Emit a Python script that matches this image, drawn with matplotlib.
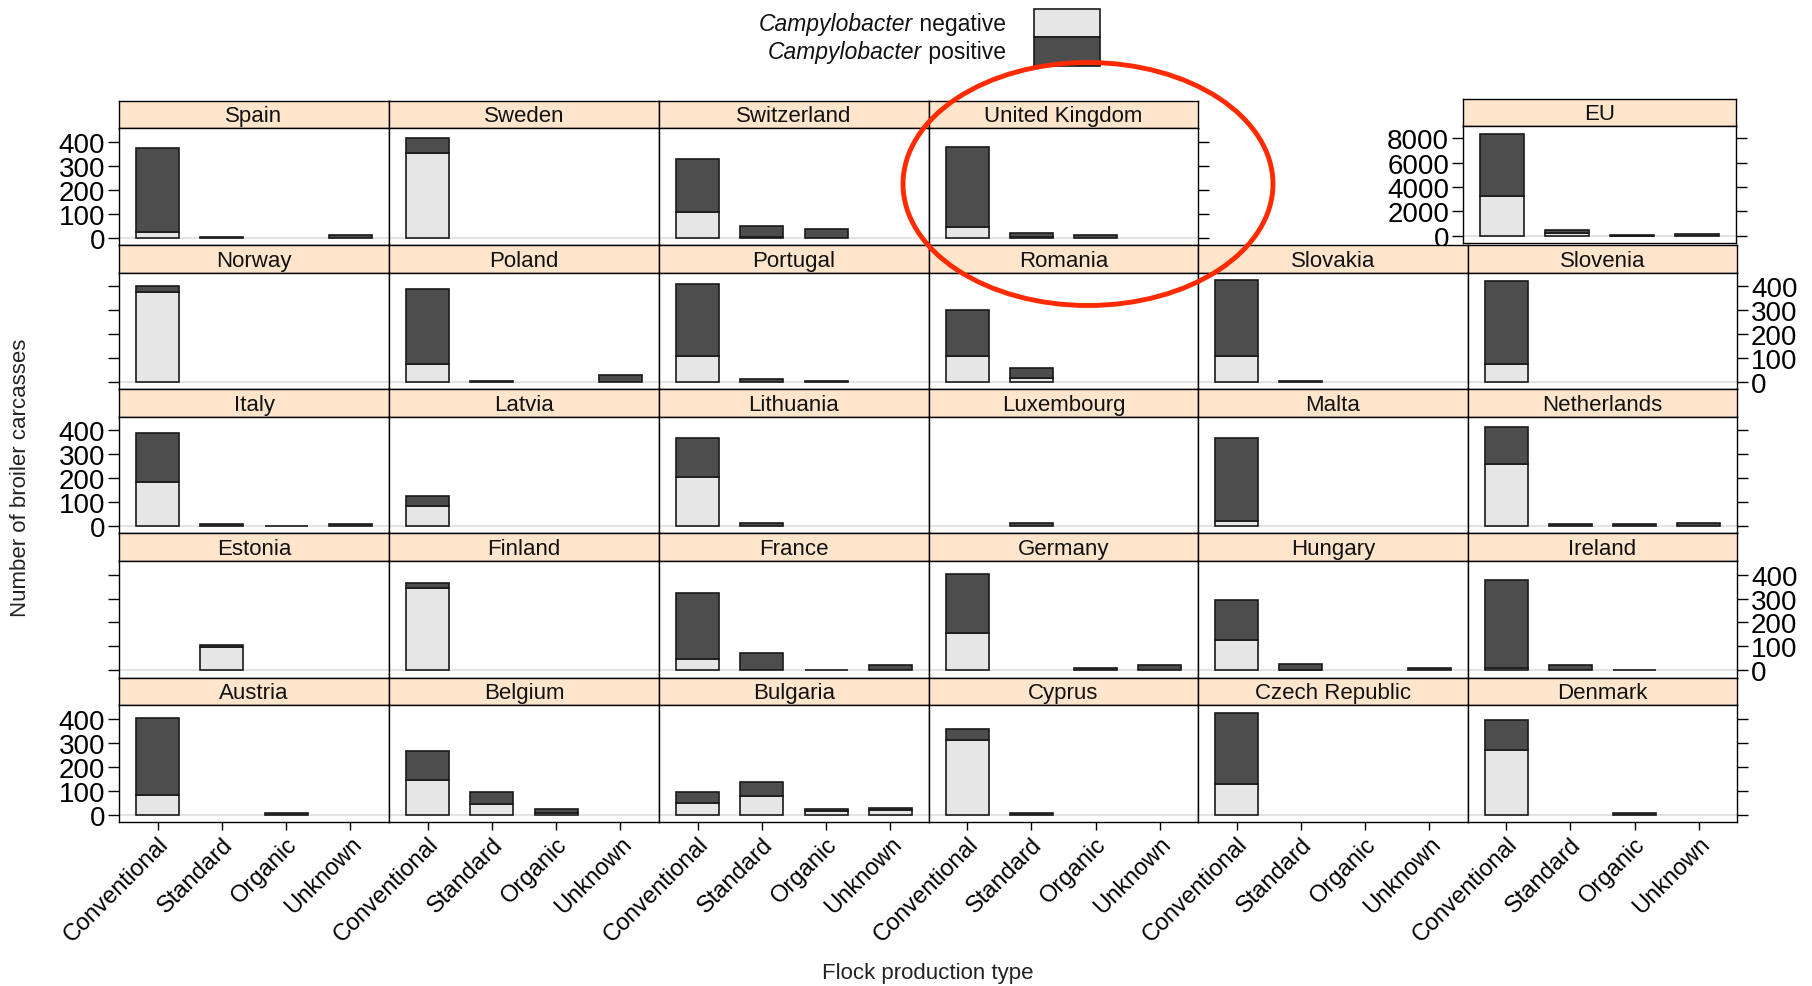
import matplotlib
matplotlib.use('Agg')
import matplotlib.pyplot as plt
from matplotlib.patches import Rectangle, Ellipse

plt.rcParams['font.family'] = ['Liberation Sans', 'DejaVu Sans']

# categories on the x axis of every panel
categories = ['Conventional', 'Standard', 'Organic', 'Unknown']

# panel layout, top row first (None = empty cell)
layout = [
    ['Spain', 'Sweden', 'Switzerland', 'United Kingdom', None, 'EU'],
    ['Norway', 'Poland', 'Portugal', 'Romania', 'Slovakia', 'Slovenia'],
    ['Italy', 'Latvia', 'Lithuania', 'Luxembourg', 'Malta', 'Netherlands'],
    ['Estonia', 'Finland', 'France', 'Germany', 'Hungary', 'Ireland'],
    ['Austria', 'Belgium', 'Bulgaria', 'Cyprus', 'Czech Republic', 'Denmark'],
]

# Campylobacter negative counts (Conventional, Standard, Organic, Unknown)
negative = {
    'Spain': [26, 0, 0, 0], 'Sweden': [353, 0, 0, 0],
    'Switzerland': [107, 2, 0, 0], 'United Kingdom': [46, 3, 0, 0],
    'EU': [3254, 250, 20, 0],
    'Norway': [376, 0, 0, 0], 'Poland': [77, 0, 0, 0],
    'Portugal': [107, 0, 0, 0], 'Romania': [107, 18, 0, 0],
    'Slovakia': [108, 0, 0, 0], 'Slovenia': [77, 0, 0, 0],
    'Italy': [185, 0, 2, 0], 'Latvia': [83, 0, 0, 0],
    'Lithuania': [204, 0, 0, 0], 'Luxembourg': [0, 0, 0, 0],
    'Malta': [21, 0, 0, 0], 'Netherlands': [258, 0, 0, 0],
    'Estonia': [0, 96, 0, 0], 'Finland': [345, 0, 0, 0],
    'France': [48, 0, 1, 0], 'Germany': [156, 0, 0, 0],
    'Hungary': [126, 3, 0, 0], 'Ireland': [9, 0, 1, 0],
    'Austria': [81, 0, 0, 0], 'Belgium': [143, 43, 8, 0],
    'Bulgaria': [48, 76, 14, 19], 'Cyprus': [310, 0, 0, 0],
    'Czech Republic': [129, 0, 0, 0], 'Denmark': [271, 0, 0, 0],
}

# Campylobacter positive counts
positive = {
    'Spain': [348, 5, 0, 13], 'Sweden': [62, 0, 0, 0],
    'Switzerland': [224, 46, 36, 0], 'United Kingdom': [333, 16, 12, 0],
    'EU': [5126, 240, 30, 136],
    'Norway': [25, 0, 0, 0], 'Poland': [313, 2, 0, 29],
    'Portugal': [301, 13, 6, 0], 'Romania': [192, 42, 0, 0],
    'Slovakia': [319, 2, 0, 0], 'Slovenia': [344, 0, 0, 0],
    'Italy': [205, 7, 0, 7], 'Latvia': [44, 0, 0, 0],
    'Lithuania': [164, 14, 0, 0], 'Luxembourg': [0, 14, 0, 0],
    'Malta': [347, 0, 0, 0], 'Netherlands': [158, 8, 8, 14],
    'Estonia': [0, 8, 0, 0], 'Finland': [22, 0, 0, 0],
    'France': [277, 74, 0, 22], 'Germany': [247, 0, 10, 22],
    'Hungary': [169, 24, 0, 9], 'Ireland': [369, 22, 0, 0],
    'Austria': [324, 0, 8, 0], 'Belgium': [124, 52, 16, 0],
    'Bulgaria': [47, 62, 10, 10], 'Cyprus': [47, 8, 0, 0],
    'Czech Republic': [295, 0, 0, 0], 'Denmark': [124, 0, 8, 0],
}

yticks_common = [0, 100, 200, 300, 400]
yticks_eu = [0, 2000, 4000, 6000, 8000]

NEG = '#e6e6e6'
POS = '#4d4d4d'
STRIP = '#ffe5cc'

W, H = 1812, 987
fig = plt.figure(figsize=(W / 100, H / 100), dpi=100)


def px_axes(x0, y0, x1, y1):
    return fig.add_axes([x0 / W, 1 - y1 / H, (x1 - x0) / W, (y1 - y0) / H])


col_x = [119, 389, 659, 929, 1198, 1468, 1737]
row_top = 101.7
row_h = 144.2
strip_h = 27.7

common_max = max(n + p for k in negative if k != 'EU'
                 for n, p in zip(negative[k], positive[k]))
eu_max = max(n + p for n, p in zip(negative['EU'], positive['EU']))

xs = list(range(1, len(categories) + 1))

for r, row in enumerate(layout):
    for c, name in enumerate(row):
        if name is None:
            continue
        top = row_top + r * row_h
        x0, x1 = col_x[c], col_x[c + 1]
        if name == 'EU':
            # EU panel sits a little higher and to the left
            top -= 2
            x0, x1 = x0 - 5, x1 - 1
        # strip
        sax = px_axes(x0, top, x1, top + strip_h)
        sax.set_facecolor(STRIP)
        sax.set_xticks([])
        sax.set_yticks([])
        for s in sax.spines.values():
            s.set_linewidth(1.0)
        sax.text(0.5, 0.45, name, ha='center', va='center', fontsize=16,
                 color='#111111', transform=sax.transAxes)
        # panel
        ax = px_axes(x0, top + strip_h, x1, top + row_h)
        for s in ax.spines.values():
            s.set_linewidth(1.0)
        ax.axhline(0, color='#e3e3e3', lw=1.5, zorder=0)
        neg = negative[name]
        pos = positive[name]
        for xi, n, p in zip(xs, neg, pos):
            if n > 0:
                ax.bar(xi, n, width=2 / 3, color=NEG, edgecolor='#1a1a1a',
                       linewidth=1.2, zorder=2)
            if p > 0:
                ax.bar(xi, p, bottom=n, width=2 / 3, color=POS,
                       edgecolor='#1a1a1a', linewidth=1.2, zorder=2)
        ax.set_xlim(0.4, len(categories) + 0.6)
        m = eu_max if name == 'EU' else common_max
        ax.set_ylim(-0.07 * m, 1.07 * m)
        ax.set_yticks(yticks_eu if name == 'EU' else yticks_common)

        last_col = (c == 5) or (r == 0 and c == 3)
        left = (c == 0) or name == 'EU'
        right = last_col
        lab_left = (left and r % 2 == 0)
        lab_right = (right and r % 2 == 1)
        ax.tick_params(axis='y', direction='out', length=8, width=1,
                       left=left, right=right, labelleft=lab_left,
                       labelright=lab_right, labelsize=20, pad=2,
                       colors='black')
        ax.set_xticks(xs)
        if r == len(layout) - 1:
            ax.tick_params(axis='x', direction='out', length=6, width=1,
                           labelbottom=False)
            for xi, cat in zip(xs, categories):
                ax.annotate(cat, xy=(xi, 0), xycoords=ax.get_xaxis_transform(),
                            xytext=(5.5, -13.5), textcoords='offset points',
                            ha='right', va='center', rotation=45,
                            rotation_mode='anchor', fontsize=17)
        else:
            ax.tick_params(axis='x', bottom=False, labelbottom=False)

# overlay for legend, ellipse and axis titles
ov = fig.add_axes([0, 0, 1, 1], facecolor='none')
ov.set_xlim(0, W)
ov.set_ylim(H, 0)
ov.axis('off')

ov.add_patch(Rectangle((1034, 10.4), 66, 27.7, facecolor=NEG,
                       edgecolor='#1a1a1a', lw=1.2))
ov.add_patch(Rectangle((1034, 38.1), 66, 28.9, facecolor=POS,
                       edgecolor='#1a1a1a', lw=1.2))
for y, word in [(24, 'negative'), (53, 'positive')]:
    t = ov.text(1006, y, ' ' + word, ha='right', va='center', fontsize=16.5,
                color='#111111')
    ov.annotate('Campylobacter', xy=(0, 0.5), xycoords=t, ha='right',
                va='center', fontsize=16.5, style='italic', color='#111111')

ov.add_patch(Ellipse((1088, 185), 370, 243, fill=False,
                     edgecolor='#ff2a00', lw=3.5, zorder=10))

ov.text(21, 478, 'Number of broiler carcasses', rotation=90, ha='center',
        va='center', fontsize=16, color='#222222')
ov.text(928, 974, 'Flock production type', ha='center', va='center',
        fontsize=16, color='#222222')

fig.savefig('out.png', dpi=100)
